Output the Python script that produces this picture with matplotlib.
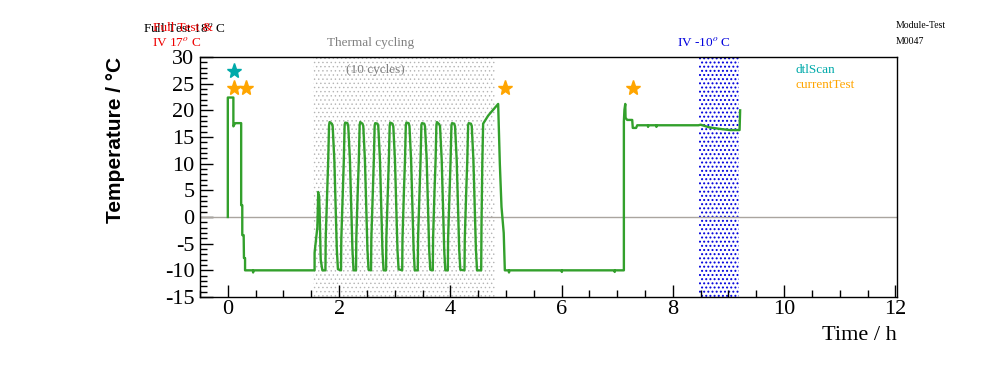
import matplotlib
matplotlib.use("Agg")
import matplotlib.pyplot as plt
import numpy as np

plt.rcParams['font.family'] = ['Liberation Serif', 'DejaVu Serif']
plt.rcParams['mathtext.fontset'] = 'stix'
plt.rcParams['axes.unicode_minus'] = False

# temperature trace (time in h, temperature in deg C)
time_h = [0.0, 0.0, 0.10, 0.10, 0.12, 0.14, 0.24, 0.24, 0.26, 0.26, 0.285, 0.29, 0.31, 0.31,
          0.45, 0.455, 0.46, 1.56, 1.56, 1.61, 1.625, 1.63, 1.64, 1.65, 1.67, 1.70,
          # thermal cycling
          1.755, 1.76, 1.785, 1.805, 1.82, 1.83, 1.87, 1.885, 1.915, 1.94, 1.96, 1.98,
          2.035, 2.04, 2.065, 2.085, 2.10, 2.11, 2.15, 2.165, 2.195, 2.22, 2.24, 2.26,
          2.305, 2.31, 2.335, 2.355, 2.37, 2.38, 2.42, 2.435, 2.465, 2.49, 2.51, 2.53,
          2.575, 2.58, 2.605, 2.625, 2.64, 2.65, 2.69, 2.705, 2.735, 2.76, 2.78, 2.80,
          2.845, 2.85, 2.875, 2.895, 2.91, 2.92, 2.96, 2.975, 3.005, 3.03, 3.05, 3.07,
          3.135, 3.14, 3.165, 3.185, 3.20, 3.21, 3.25, 3.265, 3.295, 3.32, 3.34, 3.36,
          3.415, 3.42, 3.445, 3.465, 3.48, 3.49, 3.53, 3.545, 3.575, 3.60, 3.62, 3.64,
          3.685, 3.69, 3.715, 3.735, 3.75, 3.76, 3.80, 3.815, 3.845, 3.87, 3.89, 3.91,
          3.955, 3.96, 3.985, 4.005, 4.02, 4.03, 4.07, 4.085, 4.115, 4.14, 4.16, 4.18,
          4.255, 4.26, 4.285, 4.305, 4.32, 4.33, 4.37, 4.385, 4.415, 4.44, 4.46, 4.48,
          4.555, 4.56, 4.575, 4.59, 4.68, 4.86, 4.89, 4.92, 4.96, 4.98,
          5.05, 5.055, 5.06, 6.0, 6.005, 6.01, 6.95, 6.955, 6.96,
          7.12, 7.12, 7.13, 7.145, 7.15, 7.18, 7.27, 7.28, 7.34, 7.36,
          7.55, 7.555, 7.56, 7.70, 7.705, 7.71, 8.46, 8.50, 8.66, 8.86, 9.03, 9.20, 9.21]
temp_c = [0.0, 22.4, 22.4, 17.0, 17.4, 17.6, 17.6, 2.2, 2.2, -3.4, -3.4, -7.7, -7.7, -10.0,
          -10.0, -10.4, -10.0, -10.0, -6.7, -1.9, 4.7, 2.0, 4.0, 1.3, -8.0, -10.0,
          -10.0, -4.0, 4.5, 10.7, 17.2, 17.8, 17.5, 17.0, 10.7, 1.3, -6.2, -9.8,
          -10.0, -4.2, 4.3, 10.5, 17.3, 17.7, 17.6, 17.0, 10.8, 1.5, -6.0, -10.0,
          -10.0, -4.0, 4.6, 10.6, 17.2, 17.8, 17.5, 17.1, 10.6, 1.4, -6.1, -9.9,
          -10.0, -4.1, 4.4, 10.7, 17.2, 17.6, 17.5, 17.0, 10.7, 1.2, -6.3, -10.0,
          -10.0, -4.0, 4.5, 10.8, 17.1, 17.7, 17.5, 17.0, 10.6, 1.3, -6.2, -9.8,
          -10.0, -4.2, 4.5, 10.6, 17.2, 17.7, 17.6, 17.1, 10.7, 1.4, -6.0, -10.0,
          -10.0, -4.0, 4.4, 10.7, 17.2, 17.6, 17.5, 17.0, 10.8, 1.3, -6.2, -9.9,
          -10.0, -4.1, 4.6, 10.6, 17.3, 17.8, 17.4, 17.0, 10.7, 1.2, -6.1, -10.0,
          -10.0, -4.0, 4.5, 10.7, 17.1, 17.6, 17.5, 17.0, 10.6, 1.4, -6.2, -9.9,
          -10.0, -4.2, 4.5, 10.6, 17.2, 17.6, 17.5, 17.1, 10.7, 1.3, -6.0, -10.0,
          -10.0, -2.0, 10.0, 17.5, 19.0, 21.2, 10.0, 1.9, -3.0, -10.0,
          -10.0, -10.4, -10.0, -10.0, -10.3, -10.0, -10.0, -10.3, -10.0,
          -10.0, 17.9, 20.1, 21.2, 18.6, 18.2, 18.2, 16.7, 16.7, 17.2,
          17.2, 16.9, 17.2, 17.2, 16.9, 17.2, 17.2, 17.3, 16.8, 16.5, 16.3, 16.3, 20.0]

# markers for the test runs
dtl_time = [0.12]
dtl_temp = [27.3]
current_time = [0.12, 0.32, 4.99, 7.29]
current_temp = [24.2, 24.2, 24.2, 24.2]

# shaded periods
thermal_span = (1.54, 4.81)
iv_cold_span = (8.47, 9.19)

green = '#33a02c'
cyan = '#00aaaa'
orange = '#ffa500'

fig = plt.figure(figsize=(9.96, 3.72), dpi=100)
ax = fig.add_axes([200 / 996, 1 - 297 / 372, 697 / 996, 240 / 372])

# hatch width is picked up when the patch is made
plt.rcParams['hatch.linewidth'] = 0.5
ax.axvspan(*thermal_span, facecolor='none', edgecolor='#b4b4b4', hatch='....', linewidth=0)
plt.rcParams['hatch.linewidth'] = 0.9
ax.axvspan(*iv_cold_span, facecolor='none', edgecolor='#0000dd', hatch='....', linewidth=0)
ax.axhline(0, color='#aaa59f', lw=1.0)

ax.plot(time_h, temp_c, color=green, lw=1.7)
ax.plot(dtl_time, dtl_temp, '*', color=cyan, ms=11, mec=cyan)
ax.plot(current_time, current_temp, '*', color=orange, ms=11, mec=orange)

ax.set_xlim(-0.5, 12.03)
ax.set_ylim(-15, 30)
ax.set_xticks(np.arange(0, 13, 2))
ax.set_xticks(np.arange(-0.5, 12.01, 0.5), minor=True)
ax.set_yticks(np.arange(-15, 31, 5))
ax.set_yticks(np.arange(-15, 31, 1), minor=True)
ax.tick_params(which='both', direction='in', top=False, right=False, labelsize=16)
ax.tick_params(which='major', length=9, width=1)
ax.tick_params(which='minor', length=5, width=1)
ax.tick_params(axis='x', pad=2)
ax.tick_params(axis='y', pad=4)
for s in ax.spines.values():
    s.set_linewidth(1.0)

fig.text(115 / 996, 1 - 140 / 372, 'Temperature / \u00b0C', rotation=90, ha='center', va='center',
         fontsize=15, fontweight='bold', family=['Liberation Sans', 'DejaVu Sans'])
fig.text(897 / 996, 1 - 336 / 372, 'Time / h', ha='right', va='center', fontsize=16)

fig.text(371 / 996, 1 - 43 / 372, 'Thermal cycling', ha='center', va='center', fontsize=9.5, color='#808080')
fig.text(375 / 996, 1 - 70 / 372, '(10 cycles)', ha='center', va='center', fontsize=9.5, color='#808080')
fig.text(704 / 996, 1 - 43 / 372, r'IV -10$^{o}$ C', ha='center', va='center', fontsize=9.5, color='#0000dd')
fig.text(143 / 996, 1 - 28 / 372, r'Full Test 18$^{o}$ C', ha='left', va='center', fontsize=9.5, color='black')
fig.text(153 / 996, 1 - 28 / 372, 'Full Test &', ha='left', va='center', fontsize=9.5, color='#ee0000')
fig.text(177 / 996, 1 - 43 / 372, r'IV 17$^{o}$ C', ha='center', va='center', fontsize=9.5, color='#ee0000')

fig.text(796 / 996, 1 - 70 / 372, 'dtlScan', ha='left', va='center', fontsize=9.5, color=cyan)
fig.text(796 / 996, 1 - 85 / 372, 'currentTest', ha='left', va='center', fontsize=9.5, color=orange)
fig.text(896 / 996, 1 - 25 / 372, 'Module-Test', ha='left', va='center', fontsize=7)
fig.text(896 / 996, 1 - 41 / 372, 'M0047', ha='left', va='center', fontsize=7)

fig.savefig('out.png', dpi=100)
